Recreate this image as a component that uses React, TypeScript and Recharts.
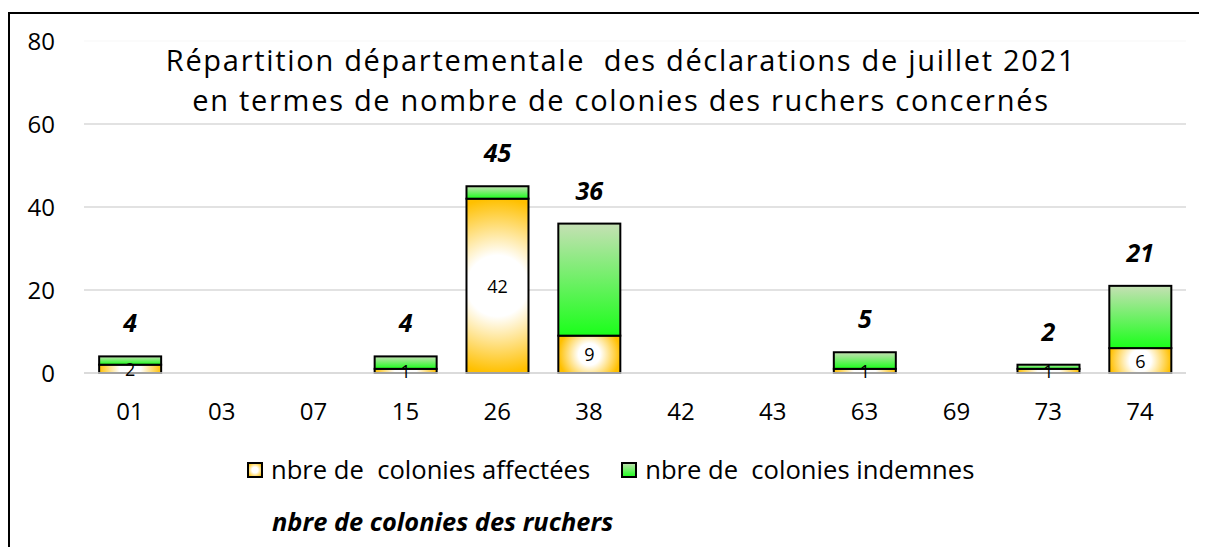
import { BarChart, Bar, XAxis, YAxis, CartesianGrid, LabelList } from "recharts";

const departements = ["01", "03", "07", "15", "26", "38", "42", "43", "63", "69", "73", "74"];
const affectees = [2, 0, 0, 1, 42, 9, 0, 0, 1, 0, 1, 6];
const indemnes = [2, 0, 0, 3, 3, 27, 0, 0, 4, 0, 1, 15];
const yTicks = [0, 20, 40, 60, 80];

const titleLines = [
  "Répartition départementale  des déclarations de juillet 2021",
  "en termes de nombre de colonies des ruchers concernés",
];

const data = departements.map((dep, i) => ({
  dep,
  affectees: affectees[i],
  indemnes: indemnes[i],
  total: affectees[i] + indemnes[i],
}));

const FONT = "'Open Sans', sans-serif";
const ORANGE = "#FFC000";
const GRID = "#d9d9d9";

function AffectedShape(props: any) {
  const { x, y, width, height, index } = props;
  if (!height || height <= 0) return null;
  const id = `aff-${index}`;
  const r = Math.max(width, height) / 2;
  return (
    <g>
      <defs>
        <radialGradient id={id} gradientUnits="userSpaceOnUse" cx={x + width / 2} cy={y + height / 2} r={r}>
          <stop offset="0" stopColor="#ffffff" />
          <stop offset="0.35" stopColor="#ffffff" />
          <stop offset="1" stopColor={ORANGE} />
        </radialGradient>
      </defs>
      <rect x={x} y={y} width={width} height={height} fill={`url(#${id})`} stroke="#000" strokeWidth={2} />
    </g>
  );
}

function GreenShape(props: any) {
  const { x, y, width, height } = props;
  if (!height || height <= 0) return null;
  return <rect x={x} y={y} width={width} height={height} fill="url(#greenGrad)" stroke="#000" strokeWidth={2} />;
}

function box(p: any) {
  const v = p.viewBox ?? p;
  return { x: v.x ?? p.x, y: v.y ?? p.y, width: v.width ?? p.width, height: v.height ?? p.height };
}

function TotalLabel(p: any) {
  const total = data[p.index]?.total ?? 0;
  if (!total) return null;
  const { x, y, width } = box(p);
  return (
    <text x={x + width / 2} y={y - 34} textAnchor="middle" dominantBaseline="central"
      fontSize={25} fontWeight="bold" fontStyle="italic" fill="#000" fontFamily={FONT}>
      {total}
    </text>
  );
}

function AffLabel(p: any) {
  const v = affectees[p.index];
  if (!v) return null;
  const { x, y, width, height } = box(p);
  return (
    <text x={x + width / 2} y={y + height / 2} textAnchor="middle" dominantBaseline="central"
      fontSize={18} fill="#000" fontFamily={FONT}>
      {v}
    </text>
  );
}

function LegendIcon({ kind }: { kind: "aff" | "green" }) {
  return (
    <svg width={16} height={16} style={{ marginRight: 8, display: "block" }}>
      <defs>
        <radialGradient id={`leg-${kind}`} cx="0.5" cy="0.5" r="0.6">
          <stop offset="0" stopColor="#ffffff" />
          <stop offset="0.35" stopColor="#ffffff" />
          <stop offset="1" stopColor={ORANGE} />
        </radialGradient>
      </defs>
      <rect x={1} y={1} width={14} height={14} stroke="#000" strokeWidth={2}
        fill={kind === "aff" ? "url(#leg-aff)" : "url(#greenGrad)"} />
    </svg>
  );
}

export default function App() {
  return (
    <div
      style={{
        position: "relative",
        marginTop: 4,
        width: 1197,
        height: 533,
        borderTop: "2px solid #000",
        borderLeft: "2px solid #000",
        background: "#fff",
        fontFamily: FONT,
        overflow: "hidden",
      }}
    >
      <BarChart
        width={1197}
        height={533}
        data={data}
        margin={{ top: 27, right: 21, left: 0, bottom: 134 }}
        barCategoryGap="16.5%"
      >
        <defs>
          <linearGradient id="greenGrad" x1="0" y1="0" x2="0" y2="1">
            <stop offset="0" stopColor="#C5E0B4" />
            <stop offset="1" stopColor="#1AFF1A" />
          </linearGradient>
        </defs>
        <CartesianGrid vertical={false} stroke={GRID} strokeWidth={1.5} />
        <XAxis
          dataKey="dep"
          height={40}
          tickLine={false}
          tickSize={0}
          tickMargin={30}
          fontSize={24}
          axisLine={{ stroke: GRID, strokeWidth: 1.5 }}
          tick={{ fill: "#000", fontSize: 24, fontFamily: FONT }}
        />
        <YAxis
          width={74}
          domain={[0, 80]}
          ticks={yTicks}
          interval={0}
          axisLine={false}
          tickLine={false}
          tickSize={0}
          tickMargin={29}
          fontSize={24}
          tick={{ fill: "#000", fontSize: 24, fontFamily: FONT }}
        />
        <Bar dataKey="affectees" stackId="a" shape={AffectedShape} isAnimationActive={false}>
          <LabelList dataKey="affectees" content={AffLabel} />
        </Bar>
        <Bar dataKey="indemnes" stackId="a" shape={GreenShape} isAnimationActive={false}>
          <LabelList dataKey="total" content={TotalLabel} />
        </Bar>
      </BarChart>

      <div
        style={{
          position: "absolute",
          top: 24,
          left: 74,
          width: 1102,
          height: 84,
          background: "rgba(255,255,255,0.85)",
        }}
      />
      <div
        style={{
          position: "absolute",
          top: 26,
          left: 611,
          transform: "translateX(-50%)",
          whiteSpace: "pre",
          textAlign: "center",
          fontSize: 29,
          letterSpacing: "1.7px",
          lineHeight: "40px",
          color: "#000",
        }}
      >
        {titleLines.map((l) => (
          <div key={l}>{l}</div>
        ))}
      </div>

      <div
        style={{
          position: "absolute",
          top: 440,
          left: 237,
          display: "flex",
          alignItems: "center",
          whiteSpace: "pre",
          fontSize: 25.6,
          lineHeight: "32px",
          color: "#000",
        }}
      >
        <LegendIcon kind="aff" />
        <span style={{ marginRight: 31 }}>nbre de  colonies affectées</span>
        <LegendIcon kind="green" />
        <span>nbre de  colonies indemnes</span>
      </div>

      <div
        style={{
          position: "absolute",
          top: 491,
          left: 262,
          fontSize: 25.4,
          lineHeight: "32px",
          fontWeight: "bold",
          fontStyle: "italic",
          color: "#000",
        }}
      >
        nbre de colonies des ruchers
      </div>
    </div>
  );
}
